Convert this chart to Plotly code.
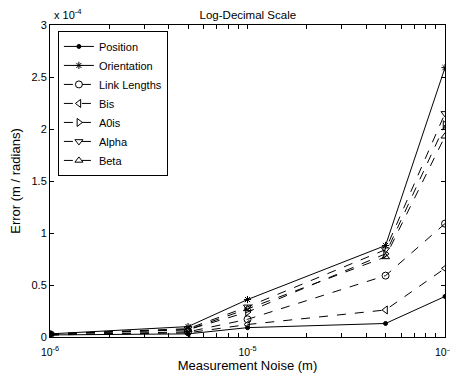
import plotly.graph_objects as go

noise = [1e-6, 5e-6, 1e-5, 5e-5, 1e-4]
# errors in units of 1e-4
position = [0.02, 0.03, 0.09, 0.13, 0.39]
orientation = [0.03, 0.10, 0.36, 0.88, 2.59]
link_lengths = [0.02, 0.05, 0.17, 0.59, 1.09]
bis = [0.02, 0.04, 0.12, 0.26, 0.66]
a0is = [0.03, 0.07, 0.24, 0.80, 2.04]
alpha = [0.03, 0.08, 0.29, 0.84, 2.15]
beta = [0.03, 0.07, 0.27, 0.77, 1.93]

series = [
    ("Position", position, "circle", "solid", 4),
    ("Orientation", orientation, "asterisk-open", "solid", 6),
    ("Link Lengths", link_lengths, "circle-open", "dash", 7),
    ("Bis", bis, "triangle-left-open", "dash", 7),
    ("A0is", a0is, "triangle-right-open", "dash", 7),
    ("Alpha", alpha, "triangle-down-open", "dash", 7),
    ("Beta", beta, "triangle-up-open", "dash", 7),
]

fig = go.Figure()
for name, vals, sym, dash, ms in series:
    fig.add_trace(go.Scatter(
        x=noise, y=vals, name=name, mode="lines+markers",
        line=dict(color="black", width=1, dash=dash),
        marker=dict(symbol=sym, size=ms, color="black",
                    line=dict(color="black", width=1)),
    ))

sup = {-6: "10<sup>-6</sup>", -5: "10<sup>-5</sup>"}
last_label = "10<sup>-4</sup>"
xt = []
xl = []
for e in (-6, -5):
    for m in range(1, 10):
        xt.append(m * 10 ** e)
        xl.append(sup[e] if m == 1 else " ")
xt.append(1e-4)
xl.append(" ")  # drawn as an annotation below so it is not clipped

yt = [0, 0.5, 1, 1.5, 2, 2.5, 3]
yl = ["0", "0.5", "1", "1.5", "2", "2.5", "3"]

# the page body adds an 8px margin, so the figure is 8px smaller
fig.update_layout(
    width=450, height=371,
    margin=dict(l=42, r=13, t=17, b=42),
    paper_bgcolor="white", plot_bgcolor="white",
    font=dict(family="Liberation Sans, Arial, sans-serif", size=11, color="black"),
    title=dict(text="Log-Decimal Scale", x=0.533, xanchor="center",
               y=0.981, yanchor="middle", font=dict(size=11.5)),
    showlegend=True,
    legend=dict(x=0.02, y=0.981, xanchor="left", yanchor="top",
                bgcolor="white", bordercolor="black", borderwidth=1,
                font=dict(size=11), tracegroupgap=0, itemwidth=30),
    xaxis=dict(type="log", range=[-6, -4], tickvals=xt, ticktext=xl,
               ticks="inside", ticklen=4, tickcolor="black", tickangle=0,
               tickfont=dict(size=10.5), ticklabeloverflow="allow",
               ticklabelstandoff=5,
               showline=True, linecolor="black", linewidth=1, mirror="allticks",
               showgrid=False, zeroline=False, automargin=False,
               title=dict(text="Measurement Noise (m)", standoff=3)),
    yaxis=dict(range=[0, 3], tickvals=yt, ticktext=yl,
               ticks="inside", ticklen=4, tickcolor="black",
               showline=True, linecolor="black", linewidth=1, mirror="allticks",
               showgrid=False, zeroline=False, automargin=False,
               title=dict(text="Error (m / radians)", standoff=9)),
    annotations=[
        dict(text="x 10<sup>-4</sup>", xref="paper", yref="paper",
             x=0.005, y=1.035, xanchor="left", yanchor="middle",
             showarrow=False, font=dict(size=11)),
        dict(text=last_label, xref="paper", yref="paper",
             x=1.025, y=-0.045, xanchor="right", yanchor="middle",
             showarrow=False, font=dict(size=10.5)),
    ],
)

fig.write_html("out.html")
